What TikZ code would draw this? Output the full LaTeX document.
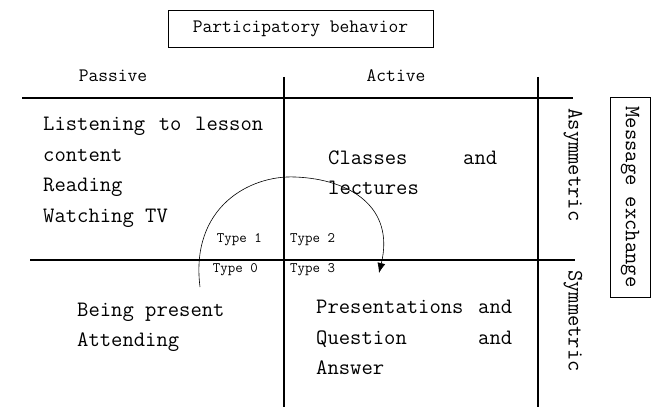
\documentclass[tikz,border=0pt]{standalone}
\usepackage{fontspec}
\usetikzlibrary{arrows.meta}
\begin{document}
\begin{tikzpicture}[x=1pt,y=1pt,
  body/.style={font=\ttfamily\fontsize{22}{30.5}\selectfont,align=left,inner sep=0pt},
  head/.style={font=\ttfamily\fontsize{19}{22}\selectfont},
  typelabel/.style={font=\ttfamily\fontsize{14.5}{16}\selectfont,inner sep=0pt},
  side/.style={font=\ttfamily\fontsize{22}{24}\selectfont,rotate=-90,inner sep=0pt}]
\useasboundingbox(0,0)rectangle(655,407);
% headings
\node[head,draw,semithick,minimum width=265,minimum height=37,inner sep=0pt](title)at(300.5,378.5){Participatory behavior};
\node[head](passive)at(113,331){Passive};
\node[head](active)at(396,331){Active};
% grid
\draw[line width=2.2pt](22,309)--(573,309);
\draw[line width=1.1pt](30,147)--(575,147);
\draw[line width=1.2pt](284,330)--(284,0);
\draw[line width=1.2pt](538,330)--(538,0);
% cells
\node[body,anchor=west](listen)at(43,234.5){\makebox[220pt]{Listening\hfill to\hfill lesson}\\content\\Reading\\Watching TV};
\node[body,anchor=west](classes)at(328,234.5){\makebox[169pt]{Classes\hfill and}\\lectures};
\node[body,anchor=west](present)at(77,79.5){Being present\\Attending};
\node[body,anchor=west](qa)at(316,69.5){\makebox[196pt]{Presentations\hfill and}\\\makebox[196pt]{Question\hfill and}\\Answer};
\node[typelabel,anchor=east](t1)at(262,167){Type 1};
\node[typelabel,anchor=west](t2)at(290,167){Type 2};
\node[typelabel,anchor=east](t0)at(258,137){Type 0};
\node[typelabel,anchor=west](t3)at(290,137){Type 3};
% rows
\node[side](asym)at(573,242){Asymmetric};
\node[side](sym)at(573,86){Symmetric};
\node[side,draw,semithick,minimum width=200,minimum height=40](msg)at(630,210){Message exchange};
% path through the types
\draw[semithick,-{Latex[length=10pt,width=8pt]}](200,120)..controls(190,200)and(250,232)..(295,230)..controls(350,228)and(395,200)..(379,134);
\end{tikzpicture}
\end{document}
